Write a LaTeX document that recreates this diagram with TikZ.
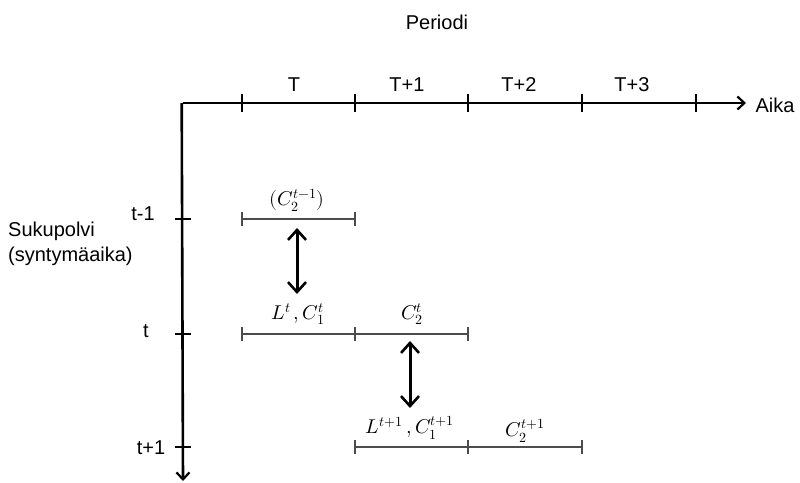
\documentclass[tikz,border=0pt]{standalone}
\usepackage{fontspec}
\usepackage{unicode-math}
\setmainfont{Liberation Sans}
\setmathfont{Latin Modern Math}
\usetikzlibrary{arrows.meta}
\begin{document}
\begin{tikzpicture}[x=1pt,y=-1pt,
  axis/.style={line width=2.6pt,-{Straight Barb[length=7pt,width=13pt,line width=2.2pt]}},
  atick/.style={line width=1.2pt},
  seg/.style={line width=1.4pt,draw=black!70},
  lbl/.style={font=\fontsize{20}{25}\selectfont,inner sep=1pt},
  mlbl/.style={font=\fontsize{20}{24}\selectfont,inner sep=1pt},
  dbl/.style={line width=3pt,{Straight Barb[length=10pt,width=18pt,line width=2.6pt]}-{Straight Barb[length=10pt,width=18pt,line width=2.6pt]}}]
\useasboundingbox (0,0) rectangle (800,482);
% axes
\coordinate (O) at (183,103);
\coordinate (xe) at (746,103);
\coordinate (ye) at (183,481);
\draw[axis] (O) -- (xe);
\draw[axis] ([xshift=-1.3pt]O) -- (ye);
% x ticks
\foreach \x in {242,355,468,582,696} \draw[atick] (\x,94) -- (\x,112);
% y ticks
\foreach \y in {219,334,447} \draw[atick] (175,\y) -- (191,\y);
% axis labels
\node[lbl] (periodi) at (437,22) {Periodi};
\node[lbl] (aika) at (775,105) {Aika};
\node[lbl] (lT) at (294,85) {T};
\node[lbl] (lT1) at (407,85) {T+1};
\node[lbl] (lT2) at (519,85) {T+2};
\node[lbl] (lT3) at (632,85) {T+3};
\node[lbl] (ltm) at (143,214) {t-1};
\node[lbl] (lt) at (146,331) {t};
\node[lbl] (ltp) at (151,448) {t+1};
\node[lbl,align=left,anchor=west] (suku) at (7,244) {Sukupolvi\\(syntymäaika)};
% segments
\draw[seg] (242,219) -- (355,219);
\foreach \x in {242,355} \draw[seg] (\x,212) -- (\x,226);
\draw[seg] (242,334) -- (468,334);
\foreach \x in {242,355,468} \draw[seg] (\x,327) -- (\x,341);
\draw[seg] (355,447) -- (582,447);
\foreach \x in {355,468,582} \draw[seg] (\x,440) -- (\x,454);
% segment labels
\node[mlbl] (c2tm) at (297,200) {$(C_2^{t-1})$};
\node[mlbl] (lc1t) at (298,314) {$L^t\,,C_1^t$};
\node[mlbl] (c2t) at (412,314) {$C_2^t$};
\node[mlbl] (lc1tp) at (410,428) {$L^{t+1}\,,C_1^{t+1}$};
\node[mlbl] (c2tp) at (525,431) {$C_2^{t+1}$};
% double arrows
\coordinate (a1) at (297,228);
\coordinate (a2) at (297,294);
\coordinate (b1) at (410,341);
\coordinate (b2) at (410,408);
\draw[dbl] (a1) -- (a2);
\draw[dbl] (b1) -- (b2);
\end{tikzpicture}
\end{document}
